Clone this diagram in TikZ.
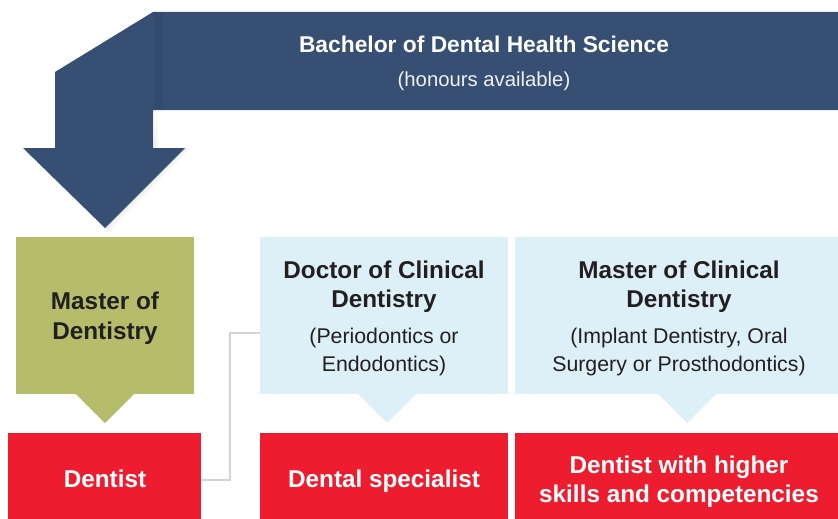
\documentclass[tikz,border=0pt]{standalone}
\usepackage{fontspec}
\setmainfont{Liberation Sans}
\definecolor{navy}{HTML}{364F73}
\definecolor{olive}{HTML}{B5BD6A}
\definecolor{lightblue}{HTML}{DDF0F8}
\definecolor{redbox}{HTML}{ED1C2E}
\definecolor{darktext}{HTML}{231F20}
\definecolor{connGray}{HTML}{D3D3D3}
\begin{document}
\begin{tikzpicture}[x=1pt,y=-1pt,
  box/.style={inner sep=0pt, outer sep=0pt, minimum height=157pt},
  redb/.style={fill=redbox, inner sep=0pt, outer sep=0pt, minimum height=86pt},
  btxt/.style={inner sep=0pt, anchor=base, font=\fontsize{24.3}{29}\selectfont\bfseries},
  rtxt/.style={inner sep=0pt, anchor=base, font=\fontsize{21.3}{28}\selectfont},
  conn/.style={draw=connGray, line width=2.2pt}
]
\useasboundingbox (0,0) rectangle (838,519);
% soft shadow of the arrow
\foreach \s in {2,4,6}{
\fill[black, opacity=0.025] (153+\s,110+\s) -- (153+\s,148) -- (185+\s,148) -- (105+0.5*\s,228+\s) -- (105,228) -- (185,148) -- (153,148) -- cycle;}
% banner with bent arrow
\fill[navy] (153,12) -- (838,12) -- (838,110) -- (153,110) -- (153,148) -- (185,148)
  -- (105,228) -- (23,148) -- (55,148) -- (55,72) -- cycle;
\fill[black, opacity=0.04] (153,12) rectangle (163,110);
\node[inner sep=0pt, anchor=base, text=white, font=\fontsize{22.8}{28}\selectfont\bfseries] (bach) at (484,53) {Bachelor of Dental Health Science};
\node[inner sep=0pt, anchor=base, text=white!92!navy, font=\fontsize{20.3}{28}\selectfont] (hon) at (484,87) {(honours available)};

% upper boxes
\node[box, fill=olive, minimum width=178pt] (mod) at (105,315.5) {};
\node[box, fill=lightblue, minimum width=248pt] (dcd) at (384,315.5) {};
\node[box, fill=lightblue, minimum width=323pt] (mcd) at (676.5,315.5) {};

% pointers
\fill[olive] (76,394) -- (134,394) -- (105,423) -- cycle;
\fill[lightblue] (358,394) -- (416,394) -- (387,423) -- cycle;
\fill[lightblue] (658,394) -- (716,394) -- (687,423) -- cycle;

% red boxes
\node[redb, minimum width=193pt] (dentist) at (104.5,476) {};
\node[redb, minimum width=248pt] (spec) at (384,476) {};
\node[redb, minimum width=323pt] (higher) at (676.5,476) {};

% connector
\coordinate (bend) at (230,333);
\draw[conn] ([yshift=-4pt]dentist.east) -| (bend) -- (dcd.west |- bend);

% texts
\node[btxt, text=darktext] (mod1) at (105,309) {Master of};
\node[btxt, text=darktext] (mod2) at (105,339) {Dentistry};

\node[btxt, text=darktext] (dcd1) at (384,278) {Doctor of Clinical};
\node[btxt, text=darktext] (dcd2) at (384,307) {Dentistry};
\node[rtxt, text=darktext] (dcd3) at (384,343) {(Periodontics or};
\node[rtxt, text=darktext] (dcd4) at (384,371) {Endodontics)};

\node[btxt, text=darktext] (mcd1) at (679,278) {Master of Clinical};
\node[btxt, text=darktext] (mcd2) at (679,307) {Dentistry};
\node[rtxt, text=darktext] (mcd3) at (679,343) {(Implant Dentistry, Oral};
\node[rtxt, text=darktext] (mcd4) at (679,371) {Surgery or Prosthodontics)};

\node[btxt, text=white] (den) at (105,487) {Dentist};
\node[btxt, text=white] (spc) at (384,487) {Dental specialist};
\node[btxt, text=white] (hi1) at (679,473) {Dentist with higher};
\node[btxt, text=white] (hi2) at (679,502) {skills and competencies};
\end{tikzpicture}
\end{document}
